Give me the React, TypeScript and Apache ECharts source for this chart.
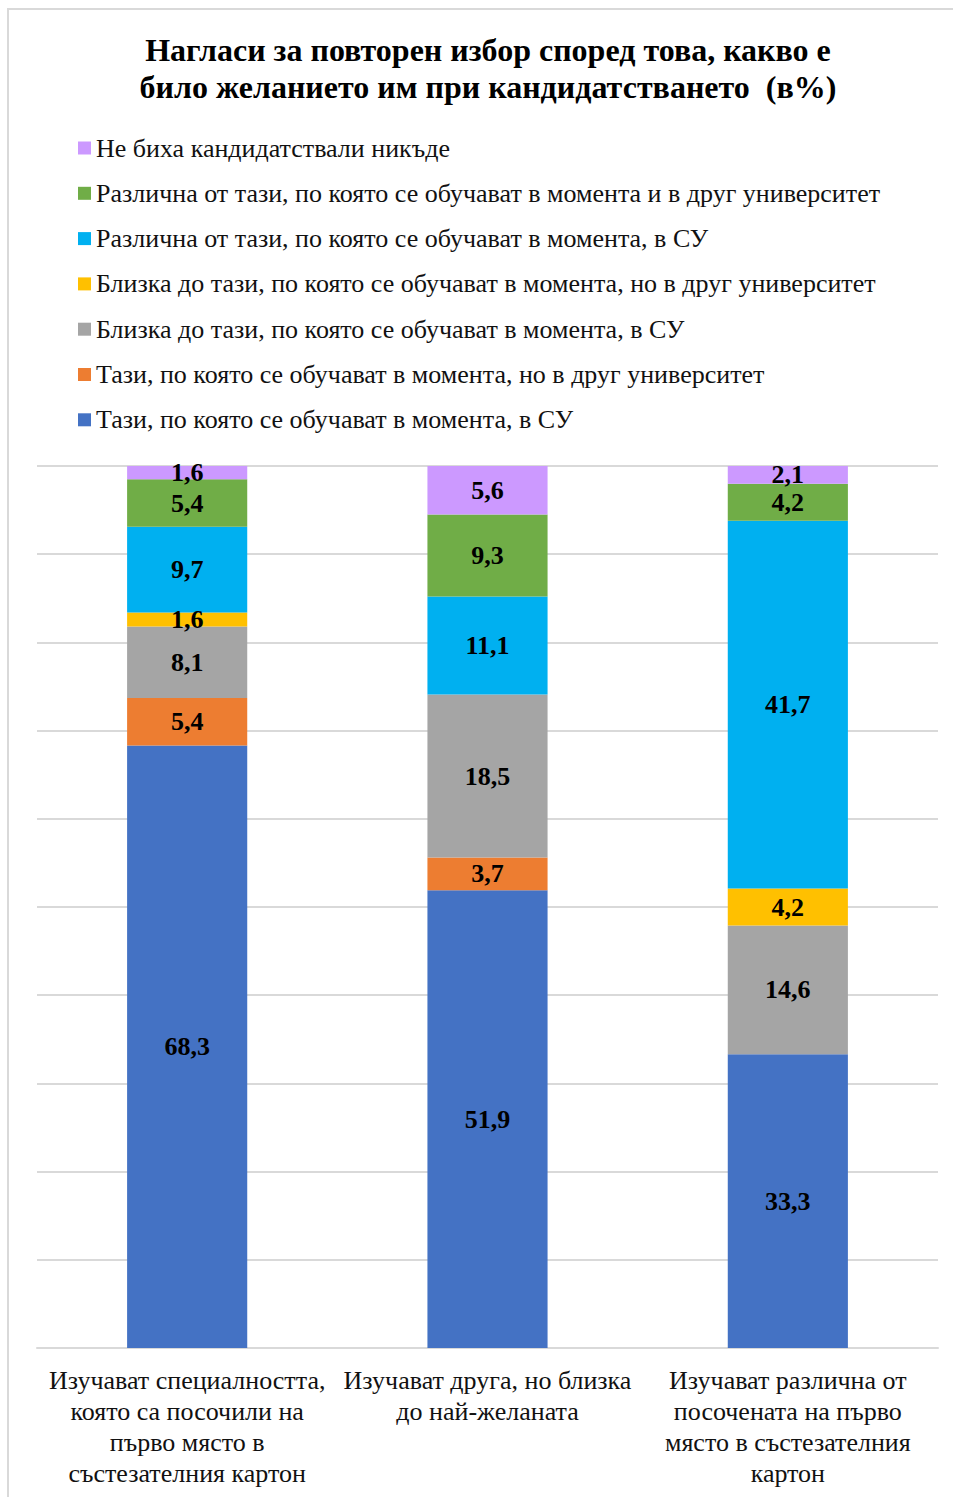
import React, { useEffect, useRef } from "react";
import * as echarts from "echarts";

const categories = [
  "Изучават специалността,\nкоято са посочили на\nпърво място в\nсъстезателния картон",
  "Изучават друга, но близка\nдо най-желаната",
  "Изучават различна от\nпосочената на първо\nмясто в състезателния\nкартон",
];

const seriesNames = [
  "Тази, по която се обучават в момента, в СУ",
  "Тази, по която се обучават в момента, но в друг университет",
  "Близка до тази, по която се обучават в момента, в СУ",
  "Близка до тази, по която се обучават в момента, но в друг университет",
  "Различна от тази, по която се обучават в момента, в СУ",
  "Различна от тази, по която се обучават в момента и в друг университет",
  "Не биха кандидатствали никъде",
];

const seriesColors = ["#4472C4", "#ED7D31", "#A5A5A5", "#FFC000", "#00B0F0", "#70AD47", "#CC99FF"];

const sameSU = [68.3, 51.9, 33.3];
const sameOther = [5.4, 3.7, 0];
const closeSU = [8.1, 18.5, 14.6];
const closeOther = [1.6, 0, 4.2];
const diffSU = [9.7, 11.1, 41.7];
const diffOther = [5.4, 9.3, 4.2];
const nowhere = [1.6, 5.6, 2.1];

const seriesValues = [sameSU, sameOther, closeSU, closeOther, diffSU, diffOther, nowhere];

const yTicks = { min: 0, max: 100, interval: 10 };

const FONT = "'Liberation Serif', 'Times New Roman', serif";

export default function App() {
  const ref = useRef<HTMLDivElement>(null);
  useEffect(() => {
    if (!ref.current) return;
    const chart = echarts.init(ref.current, undefined, { renderer: "svg" });
    chart.setOption({
      animation: false,
      backgroundColor: "#ffffff",
      title: {
        text: "Нагласи за повторен избор според това, какво е\nбило желанието им при кандидатстването  (в%)",
        left: 488,
        top: 31,
        padding: 0,
        textAlign: "center",
        textStyle: {
          fontFamily: FONT,
          fontWeight: "bold",
          fontSize: 32,
          lineHeight: 37,
          color: "#000",
        },
      },
      legend: {
        orient: "vertical",
        left: 78,
        top: 135,
        padding: 0,
        itemWidth: 13,
        itemHeight: 13,
        itemGap: 19.3,
        icon: "rect",
        data: seriesNames.slice().reverse(),
        textStyle: {
          fontFamily: FONT,
          fontSize: 26,
          lineHeight: 26,
          color: "#111",
        },
      },
      grid: { left: 37, right: 15, top: 466, bottom: 149, containLabel: false },
      xAxis: {
        type: "category",
        data: categories,
        axisTick: { show: false },
        axisLine: { lineStyle: { color: "#d9d9d9", width: 2 } },
        axisLabel: {
          interval: 0,
          margin: 17,
          fontFamily: FONT,
          fontSize: 26,
          lineHeight: 31,
          color: "#111",
          align: "center",
        },
      },
      yAxis: {
        type: "value",
        min: yTicks.min,
        max: yTicks.max,
        interval: yTicks.interval,
        axisLabel: { show: false },
        axisLine: { show: false },
        axisTick: { show: false },
        splitLine: { lineStyle: { color: "#d9d9d9", width: 2 } },
      },
      series: seriesNames.map((name, i) => ({
        name,
        type: "bar",
        stack: "total",
        barWidth: "40%",
        itemStyle: { color: seriesColors[i] },
        label: {
          show: true,
          position: "inside",
          fontFamily: FONT,
          fontWeight: "bold",
          fontSize: 26,
          color: "#000",
          formatter: (p: any) => (p.value ? p.value.toFixed(1).replace(".", ",") : ""),
        },
        data: seriesValues[i],
      })),
      graphic: [
        {
          type: "rect",
          silent: true,
          z: -1,
          shape: { x: 8, y: 9, width: 1200, height: 1800 },
          style: { fill: "none", stroke: "#d9d9d9", lineWidth: 2 },
        },
      ],
    });
    return () => chart.dispose();
  }, []);
  return (
    <div
      ref={ref}
      style={{ position: "absolute", left: 0, top: 0, width: 953, height: 1497 }}
    />
  );
}
